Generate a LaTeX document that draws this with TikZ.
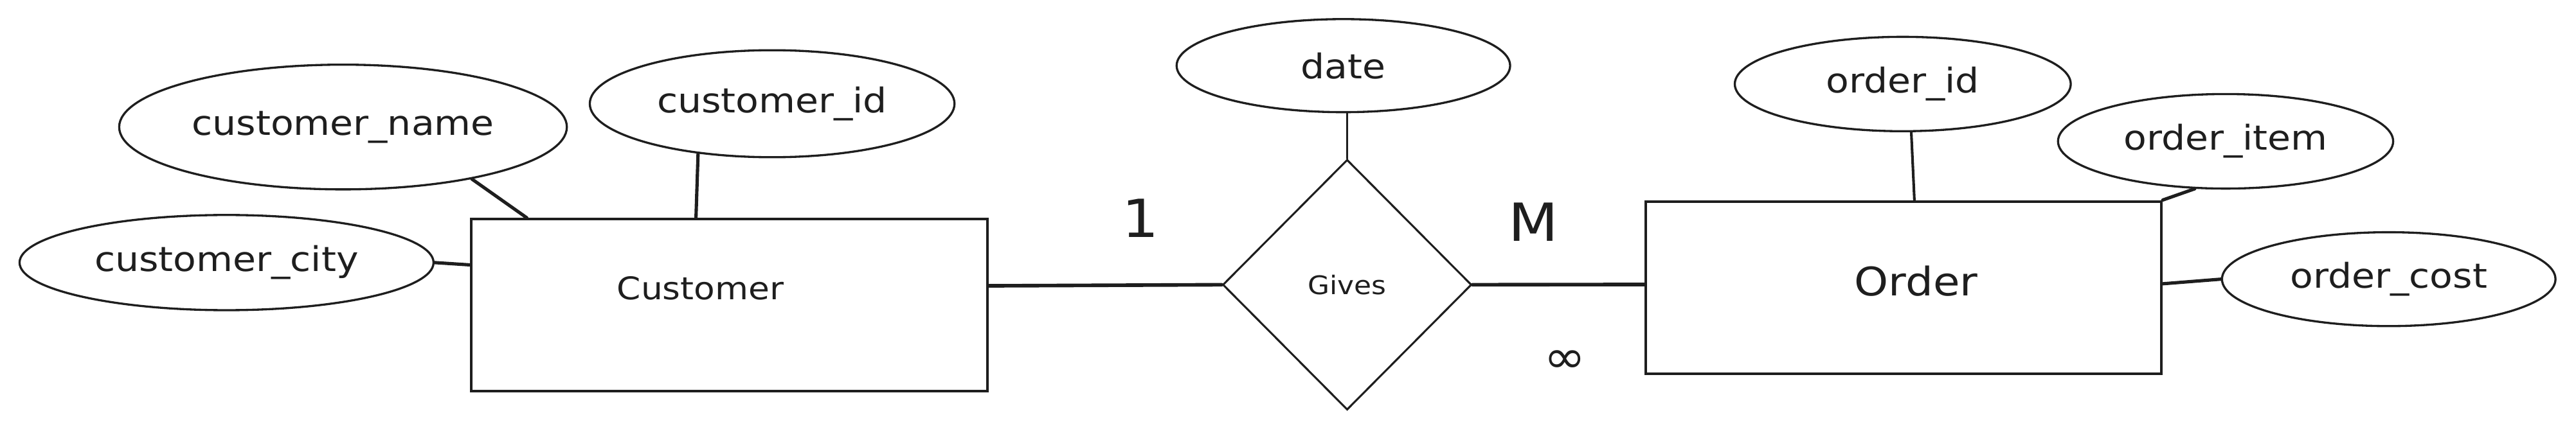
\documentclass[tikz,border=0pt]{standalone}
\usepackage{fontspec}
\setmainfont{DejaVu Sans}[FakeStretch=1.1]
\usetikzlibrary{shapes.geometric,calc}
\definecolor{ink}{HTML}{1E1E1E}
\begin{document}
\begin{tikzpicture}[x=0.5pt,y=-0.5pt,
  attr/.style={draw=ink,ellipse,line width=0.65pt,inner sep=0pt,text=ink,font=\fontsize{10.4}{12}\selectfont},
  entity/.style={draw=ink,rectangle,line width=0.8pt,inner sep=0pt},
  rel/.style={draw=ink,diamond,line width=0.6pt,inner sep=0pt,text=ink,font=\fontsize{7.8}{9}\selectfont},
  link/.style={draw=ink,line width=1pt,line cap=round},
  card/.style={text=ink,inner sep=0pt,font=\fontsize{16}{18}\selectfont}]
\useasboundingbox (0,0) rectangle (1568,261.4);

% entities
\node[entity,minimum width=157.15pt,minimum height=52.35pt,
  label={[text=ink,xshift=-8.75pt,yshift=5.2pt,font=\fontsize{9.5}{11}\selectfont]center:Customer}]
  (cust) at (443.85,185.85) {};
\node[entity,minimum width=156.95pt,minimum height=52.45pt,
  label={[text=ink,xshift=3.8pt,yshift=1.9pt,font=\fontsize{12}{14}\selectfont]center:Order}]
  (order) at (1158.65,175.15) {};

% relationship
\node[rel,minimum width=75.75pt,minimum height=76.25pt] (gives) at (820,173.5) {Gives};

% attributes
\node[attr,minimum width=136.25pt,minimum height=38pt] (cname) at (208.8,77.4) {customer\_name};
\node[attr,minimum width=111pt,minimum height=32.6pt] (cid) at (470,63.2) {customer\_id};
\node[attr,minimum width=126pt,minimum height=29pt] (ccity) at (137.9,160) {customer\_city};
\node[attr,minimum width=101.5pt,minimum height=28.35pt] (date) at (817.7,40) {date};
\node[attr,minimum width=102.25pt,minimum height=28.75pt] (oid) at (1158.2,51.2) {order\_id};
\node[attr,minimum width=102pt,minimum height=28.8pt] (oitem) at (1354.7,86.1) {order\_item};
\node[attr,minimum width=101.5pt,minimum height=28.6pt] (ocost) at (1454,170.1) {order\_cost};

% cardinalities
\node[card] (one) at (694.3,132.9) {1};
\node[card] (many) at (933.4,135.4) {M};
\node[text=ink,inner sep=0pt,font=\fontsize{14}{16}\selectfont] (inf) at (952.5,220.5) {∞};

% connectors
\draw[link] (cname.-22.8) -- ($(cust.north west)!0.11!(cust.north east)$);
\draw[link] (cid.-146) -- ($(cust.north west)!0.436!(cust.north east)$);
\draw[link] (ccity.east) -- ($(cust.north west)!0.27!(cust.south west)$);
\draw[link,line width=1.1pt] ($(cust.north east)!0.39!(cust.south east)$) -- (gives.west);
\draw[link,line width=0.75pt] (gives.north |- date.south) -- (gives.north);
\draw[link,line width=1.1pt] (gives.east) -- ($(order.north west)!0.483!(order.south west)$);
\draw[link,line width=0.8pt] (oid.-80) -- ($(order.north west)!0.521!(order.north east)$);
\draw[link] (oitem.-123) -- (order.north east);
\draw[link] (ocost.west) -- ($(order.north east)!0.479!(order.south east)$);
\end{tikzpicture}
\end{document}
